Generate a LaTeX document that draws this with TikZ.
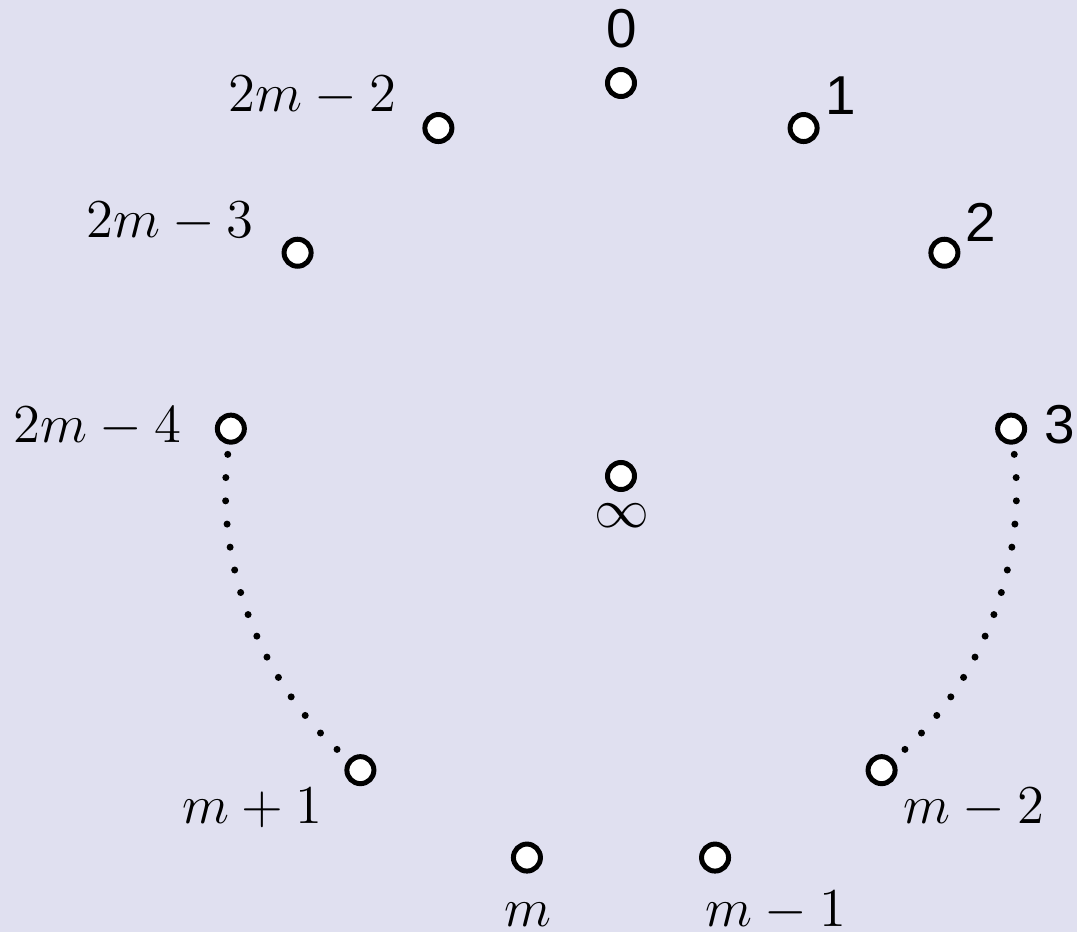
\documentclass[tikz,border=0pt]{standalone}
\usepackage{fontspec}
\newfontfamily\numfont{Liberation Sans}
\usepackage{tikz}
\definecolor{bgcol}{RGB}{224,224,240}

\begin{document}
\begin{tikzpicture}[
    x=0.2628pt, y=0.2628pt,
    vtx/.style={circle, draw=black, fill=white, line width=1.31pt, minimum size=7.1pt, inner sep=0pt},
    num/.style={font=\Large\numfont, anchor=base, inner sep=0pt},
    lbl/.style={font=\Large, anchor=base, inner sep=0pt},
    dotline/.style={line width=1.84pt, line cap=round, dash pattern=on 0pt off 6.12pt, shorten <=2.6pt, shorten >=2.6pt},
]
\useasboundingbox[fill=bgcol] (-621,-456) rectangle (456,476);
% centre
\node[vtx] (inf) at (0,0) {};
\node[lbl] (linf) at (0.5,-51) {$\infty$};
% numbered side
\node[vtx] (v0) at (90:393) {};
\node[vtx] (v1) at (62.31:393) {};
\node[vtx] (v2) at (34.62:393) {};
\node[vtx] (v3) at (6.92:393) {};
\node[num] (l0) at (1,429) {0};
\node[num] (l1) at (220,362) {1};
\node[num] (l2) at (360,235) {2};
\node[num] (l3) at (439,33) {3};
% bottom
\node[vtx] (v5) at (-48.46:393) {};
\node[vtx] (v6) at (-76.15:393) {};
\node[vtx] (v7) at (-103.85:393) {};
\node[vtx] (v8) at (-131.54:393) {};
\node[lbl] (l5) at (353,-347) {$m-2$};
\node[lbl] (l6) at (155,-450) {$m-1$};
\node[lbl] (l7) at (-93.5,-450) {$m$};
\node[lbl] (l8) at (-369,-347) {$m+1$};
% left side
\node[vtx] (v10) at (173.08:393) {};
\node[vtx] (v11) at (145.38:393) {};
\node[vtx] (v12) at (117.69:393) {};
\node[lbl] (l10) at (-523.5,34) {$2m-4$};
\node[lbl] (l11) at (-451,239) {$2m-3$};
\node[lbl] (l12) at (-308.5,365) {$2m-2$};

\draw[dotline] (v3) to[bend left=27.7, looseness=0.9] (v5);
\draw[dotline] (v10) to[bend right=27.7, looseness=0.9] (v8);
\end{tikzpicture}
\end{document}
